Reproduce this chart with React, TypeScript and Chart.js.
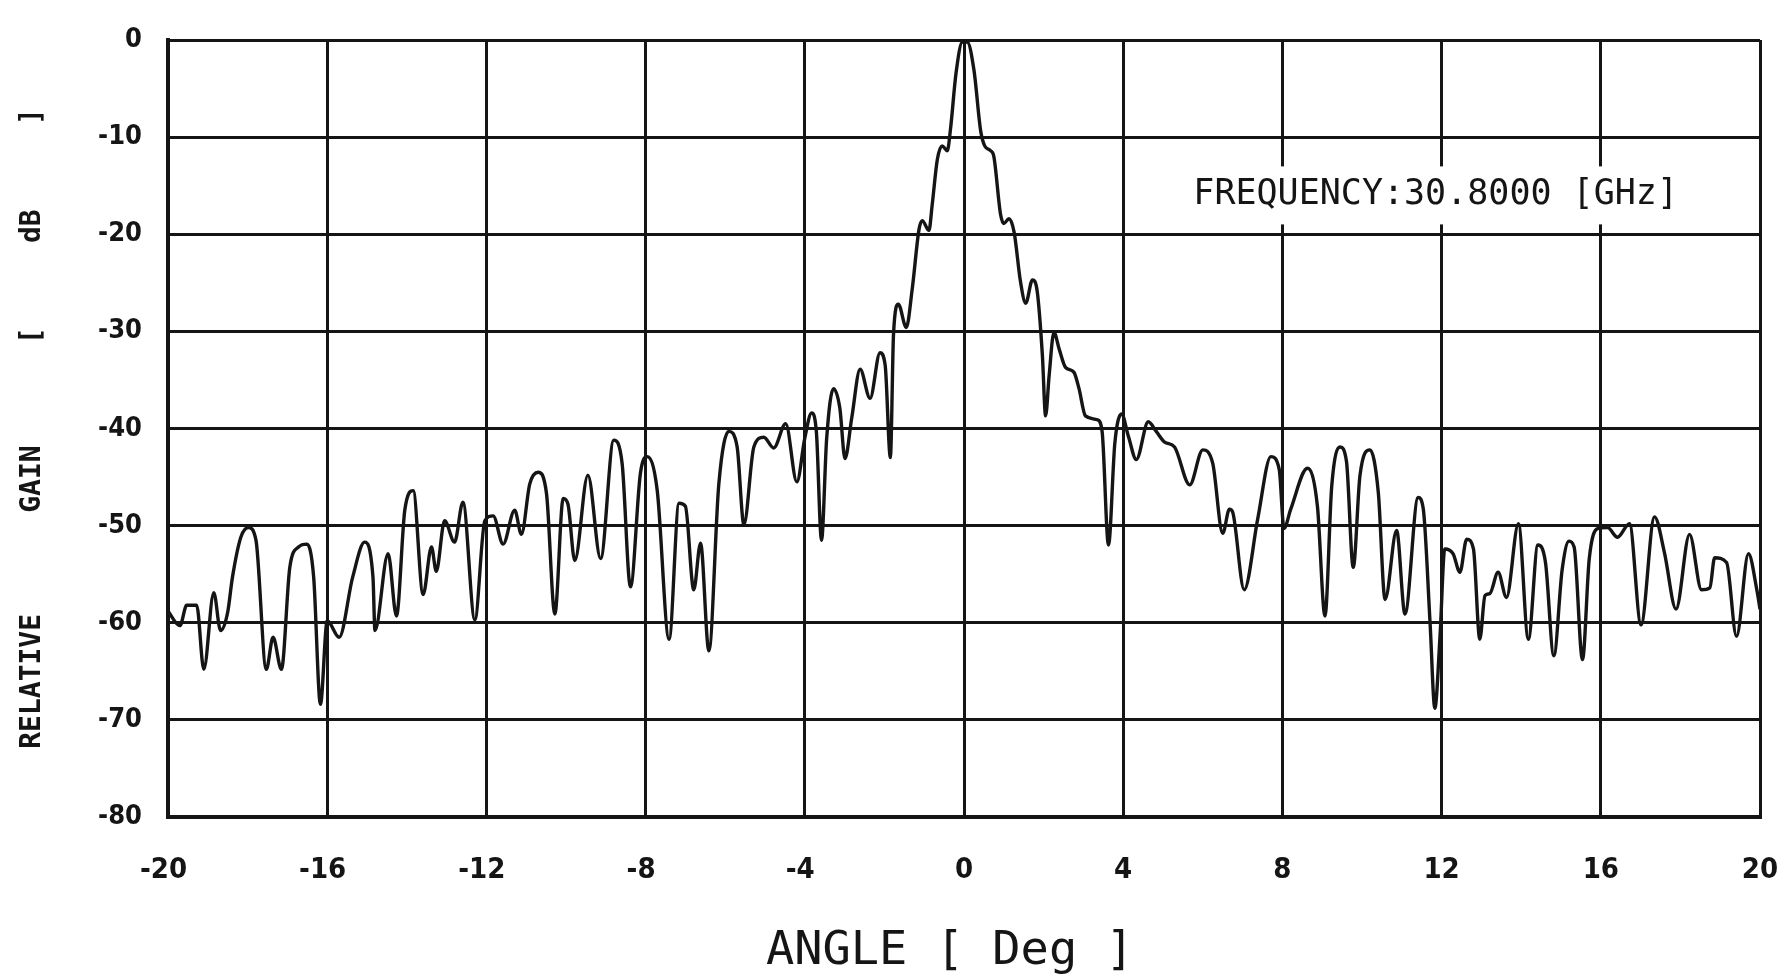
import React, { useEffect, useRef } from "react";
import { Chart, registerables } from "chart.js";

Chart.register(...registerables);

// ---- data ----
const angleDeg = [
  -20.0, -19.7, -19.53, -19.28, -19.1, -18.85, -18.68, -18.5, -18.38, -18.17,
  -17.98, -17.79, -17.53, -17.36, -17.15, -16.94, -16.72, -16.51, -16.34, -16.17,
  -16.0, -15.7, -15.36, -15.06, -14.85, -14.8, -14.47, -14.26, -14.05, -13.84,
  -13.59, -13.38, -13.26, -13.05, -12.8, -12.59, -12.29, -12.04, -11.83, -11.58,
  -11.29, -11.12, -10.91, -10.7, -10.49, -10.28, -10.07, -9.95, -9.78, -9.45,
  -9.13, -8.8, -8.59, -8.38, -8.13, -7.96, -7.71, -7.41, -7.16, -7.0,
  -6.79, -6.62, -6.41, -6.16, -5.91, -5.7, -5.53, -5.28, -5.03, -4.78,
  -4.48, -4.2, -4.0, -3.83, -3.71, -3.58, -3.45, -3.28, -3.12, -2.99,
  -2.82, -2.61, -2.36, -2.11, -1.98, -1.85, -1.77, -1.65, -1.45, -1.3,
  -1.13, -1.05, -0.88, -0.8, -0.67, -0.55, -0.42, -0.34, -0.2, -0.04,
  0.08, 0.25, 0.42, 0.52, 0.67, 0.75, 0.92, 1.0, 1.13, 1.26,
  1.42, 1.55, 1.72, 1.84, 1.97, 2.05, 2.14, 2.26, 2.39, 2.55,
  2.76, 2.89, 3.05, 3.35, 3.47, 3.63, 3.79, 3.96, 4.13, 4.33,
  4.63, 4.83, 5.04, 5.29, 5.67, 6.0, 6.25, 6.5, 6.67, 6.75,
  7.04, 7.38, 7.71, 7.92, 8.04, 8.21, 8.63, 8.88, 9.07, 9.24,
  9.45, 9.61, 9.78, 9.95, 10.2, 10.41, 10.58, 10.87, 11.08, 11.41,
  11.54, 11.71, 11.83, 11.96, 12.08, 12.29, 12.46, 12.63, 12.8, 12.96,
  13.09, 13.21, 13.42, 13.63, 13.93, 14.18, 14.42, 14.61, 14.82, 15.03,
  15.2, 15.33, 15.54, 15.71, 15.92, 16.17, 16.42, 16.72, 17.01, 17.35,
  17.6, 17.89, 18.23, 18.53, 18.74, 18.86, 19.16, 19.41, 19.71, 19.92,
  20.0,
];

const gainDb = [
  -58.8, -60.3, -58.2, -58.2, -64.8, -56.9, -60.8, -58.9, -55.3, -51.2,
  -50.2, -51.5, -64.8, -61.5, -64.8, -54.3, -52.2, -51.9, -55.3, -68.4,
  -59.8, -61.5, -55.3, -51.7, -55.3, -60.8, -52.9, -59.3, -48.4, -46.4,
  -57.1, -52.2, -54.7, -49.5, -51.7, -47.6, -59.7, -49.5, -49.0, -51.9,
  -48.4, -50.9, -45.7, -44.5, -46.7, -59.1, -47.2, -47.8, -53.6, -44.8,
  -53.4, -41.2, -43.6, -56.3, -44.6, -42.9, -46.3, -61.7, -47.7, -48.0,
  -56.6, -51.8, -62.9, -45.7, -40.3, -41.9, -49.9, -41.9, -40.9, -42.0,
  -39.5, -45.5, -41.0, -38.4, -40.3, -51.5, -41.0, -35.9, -37.9, -43.1,
  -38.9, -33.9, -36.9, -32.2, -33.5, -43.0, -30.2, -27.2, -29.6, -25.6,
  -19.5, -18.6, -19.6, -17.0, -12.3, -10.9, -11.4, -9.2, -3.4, -0.2,
  -0.2, -3.1, -9.4, -10.9, -11.4, -12.0, -18.0, -18.9, -18.4, -19.8,
  -24.9, -27.1, -24.7, -25.9, -32.5, -38.7, -34.5, -30.1, -31.8, -33.7,
  -34.2, -35.9, -38.7, -39.1, -40.3, -52.0, -41.5, -38.5, -40.8, -43.2,
  -39.3, -40.3, -41.4, -41.9, -45.8, -42.2, -43.6, -50.8, -48.3, -48.6,
  -56.6, -49.3, -42.9, -44.2, -50.3, -48.3, -44.1, -48.0, -59.3, -45.9,
  -41.9, -43.4, -54.3, -44.8, -42.2, -46.6, -57.6, -50.5, -59.1, -47.1,
  -48.3, -60.0, -68.8, -61.4, -52.4, -52.9, -54.8, -51.4, -52.4, -61.7,
  -57.2, -57.0, -54.8, -57.4, -49.8, -61.7, -52.0, -53.8, -63.4, -54.5,
  -51.6, -52.2, -63.8, -53.4, -50.3, -50.2, -51.2, -49.8, -60.2, -49.1,
  -52.8, -58.6, -50.9, -56.6, -56.4, -53.3, -53.8, -61.4, -52.9, -56.6,
  -58.6,
];

const xTickValues = [-20, -16, -12, -8, -4, 0, 4, 8, 12, 16, 20];
const yTickValues = [0, -10, -20, -30, -40, -50, -60, -70, -80];

const xTitleText = "ANGLE [ Deg ] ";
const yTitleText = "RELATIVE      GAIN      [     dB     ]";
const noteText = "FREQUENCY:30.8000 [GHz]";
const noteAngle = 11.85;
const noteGain = -16.0;

const INK = "#151515";
const TICK_FAMILY = "'DejaVu Sans Condensed', 'DejaVu Sans', sans-serif";
const TEXT_FAMILY = "'DejaVu Sans Mono', monospace";

const notePlugin = {
  id: "freqNote",
  afterDraw(chart: any) {
    const { ctx, scales } = chart;
    const x = scales.x.getPixelForValue(noteAngle);
    const y = scales.y.getPixelForValue(noteGain);
    ctx.save();
    ctx.font = `35px ${TEXT_FAMILY}`;
    const w = ctx.measureText(noteText).width;
    ctx.fillStyle = "#ffffff";
    ctx.fillRect(x - w / 2 - 6, y - 29, w + 12, 58);
    ctx.fillStyle = INK;
    ctx.textAlign = "center";
    ctx.textBaseline = "middle";
    ctx.fillText(noteText, x, y);
    ctx.restore();
  },
};

export default function App() {
  const canvasRef = useRef<HTMLCanvasElement | null>(null);

  useEffect(() => {
    if (!canvasRef.current) return;
    const points = angleDeg.map((a, i) => ({ x: a, y: gainDb[i] }));
    const chart = new Chart(canvasRef.current, {
      type: "line",
      data: {
        datasets: [
          {
            data: points,
            borderColor: INK,
            borderWidth: 3.4,
            pointRadius: 0,
            fill: false,
            cubicInterpolationMode: "monotone",
          },
        ],
      },
      options: {
        animation: false,
        responsive: false,
        devicePixelRatio: 1,
        layout: { padding: { top: 40, right: 20, left: 0, bottom: 0 } },
        plugins: {
          legend: { display: false },
          tooltip: { enabled: false },
        },
        scales: {
          x: {
            type: "linear",
            min: -20,
            max: 20,
            afterBuildTicks: (s: any) => {
              s.ticks = xTickValues.map((v) => ({ value: v }));
            },
            afterFit: (s: any) => {
              s.height = 163;
              s.paddingLeft = 0;
              s.paddingRight = 0;
            },
            grid: { color: INK, lineWidth: 3, drawTicks: false },
            border: { display: true, color: INK, width: 4 },
            ticks: {
              color: INK,
              padding: 36,
              maxRotation: 0,
              autoSkip: false,
              font: { family: TICK_FAMILY, size: 29, weight: "bold" },
              callback: (v: any) => (Number(v) < 0 ? `${v} ` : `${v}`),
            },
            title: {
              display: true,
              text: xTitleText,
              color: INK,
              padding: { top: 0, bottom: 0 },
              font: { family: TEXT_FAMILY, size: 47 },
            },
          },
          y: {
            type: "linear",
            min: -80,
            max: 0,
            afterBuildTicks: (s: any) => {
              s.ticks = yTickValues.map((v) => ({ value: v }));
            },
            afterFit: (s: any) => {
              s.width = 168;
              s.paddingTop = 0;
              s.paddingBottom = 0;
            },
            grid: { color: INK, lineWidth: 3, drawTicks: false },
            border: { display: true, color: INK, width: 4 },
            ticks: {
              color: INK,
              padding: 26,
              autoSkip: false,
              font: { family: TICK_FAMILY, size: 27, weight: "bold" },
            },
            title: {
              display: true,
              text: yTitleText,
              color: INK,
              padding: { top: 16, bottom: 0 },
              font: { family: TEXT_FAMILY, size: 28, weight: "bold" },
            },
          },
        },
      },
      plugins: [notePlugin],
    });
    return () => chart.destroy();
  }, []);

  return (
    <div style={{ position: "fixed", left: 0, top: 0, width: 1780, height: 980, background: "#fff" }}>
      <canvas ref={canvasRef} width={1780} height={980} style={{ display: "block" }} />
    </div>
  );
}
